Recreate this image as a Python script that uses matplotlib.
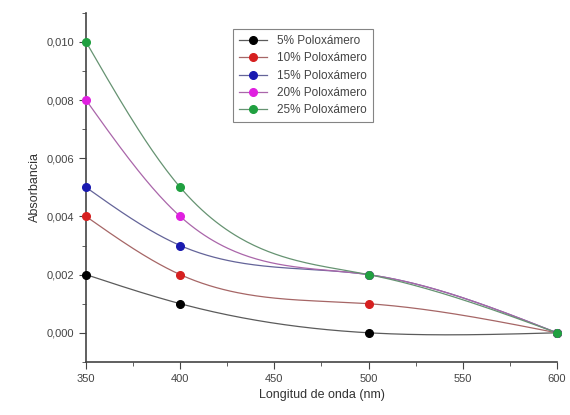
import numpy as np
import matplotlib
matplotlib.use("Agg")
import matplotlib.pyplot as plt
from matplotlib.ticker import MultipleLocator, FuncFormatter

plt.rcParams['font.family'] = ['Liberation Sans', 'DejaVu Sans']

# data
longitud = [350, 400, 500, 600]
series_labels = ["5% Poloxámero", "10% Poloxámero", "15% Poloxámero",
                 "20% Poloxámero", "25% Poloxámero"]
abs_5 = [0.002, 0.001, 0.000, 0.000]
abs_10 = [0.004, 0.002, 0.001, 0.000]
abs_15 = [0.005, 0.003, 0.002, 0.000]
abs_20 = [0.008, 0.004, 0.002, 0.000]
abs_25 = [0.010, 0.005, 0.002, 0.000]
colors = ["black", "#d62020", "#1a1ab0", "#e020e0", "#20a040"]


def natural_spline(x, y, n=200):
    x = np.asarray(x, float)
    y = np.asarray(y, float)
    k = len(x)
    h = np.diff(x)
    A = np.zeros((k, k))
    b = np.zeros(k)
    A[0, 0] = A[-1, -1] = 1
    for i in range(1, k - 1):
        A[i, i - 1] = h[i - 1]
        A[i, i] = 2 * (h[i - 1] + h[i])
        A[i, i + 1] = h[i]
        b[i] = 6 * ((y[i + 1] - y[i]) / h[i] - (y[i] - y[i - 1]) / h[i - 1])
    M = np.linalg.solve(A, b)
    xs = np.linspace(x[0], x[-1], n)
    ys = np.empty_like(xs)
    for j, t in enumerate(xs):
        i = min(np.searchsorted(x, t, side="right") - 1, k - 2)
        a, c = x[i], x[i + 1]
        ys[j] = (M[i] * (c - t) ** 3 / (6 * h[i]) + M[i + 1] * (t - a) ** 3 / (6 * h[i])
                 + (y[i] / h[i] - M[i] * h[i] / 6) * (c - t)
                 + (y[i + 1] / h[i] - M[i + 1] * h[i] / 6) * (t - a))
    return xs, ys


fig = plt.figure(figsize=(5.7, 4.15), dpi=100)
ax = fig.add_axes([0.151, 0.128, 0.826, 0.841])

for vals, lab, col in zip([abs_5, abs_10, abs_15, abs_20, abs_25], series_labels, colors):
    xs, ys = natural_spline(longitud, vals)
    line_col = matplotlib.colors.to_rgb(col)
    line_col = tuple(0.65 * 0.55 + 0.35 * c for c in line_col)
    ax.plot(xs, ys, color=line_col, lw=0.9, zorder=2)
    ax.plot([], [], color=line_col, lw=0.9, marker="o", ms=5.5,
            mfc=col, mec=col, label=lab)
    ax.plot(longitud, vals, ls="none", marker="o", ms=5.5, color=col, zorder=3,
            clip_on=False)

ax.set_xlim(350, 600)
ax.set_ylim(-0.001, 0.011)
ax.xaxis.set_major_locator(MultipleLocator(50))
ax.xaxis.set_minor_locator(MultipleLocator(25))
ax.yaxis.set_minor_locator(MultipleLocator(0.001))
ax.set_yticks([0, 0.002, 0.004, 0.006, 0.008, 0.010])
ax.yaxis.set_major_formatter(FuncFormatter(lambda v, p: f"{v:.3f}".replace(".", ",").replace("-", "")))

for s in ["top", "right"]:
    ax.spines[s].set_visible(False)
for s in ["left", "bottom"]:
    ax.spines[s].set_color("#444444")
    ax.spines[s].set_linewidth(1.2)
ax.tick_params(which="major", length=5, color="#444444", labelsize=8, labelcolor="#444444")
ax.tick_params(which="minor", length=3, color="#444444")

ax.set_xlabel("Longitud de onda (nm)", fontsize=9, color="#333333")
ax.set_ylabel("Absorbancia", fontsize=9, color="#333333")

leg = ax.legend(loc="upper left", bbox_to_anchor=(0.3, 0.97), fontsize=8.5,
                frameon=True, fancybox=False, edgecolor="#666666",
                handlelength=2.4, borderpad=0.5, labelspacing=0.45)
leg.get_frame().set_linewidth(0.8)
for t in leg.get_texts():
    t.set_color("#444444")

fig.savefig("out.png", dpi=100)
